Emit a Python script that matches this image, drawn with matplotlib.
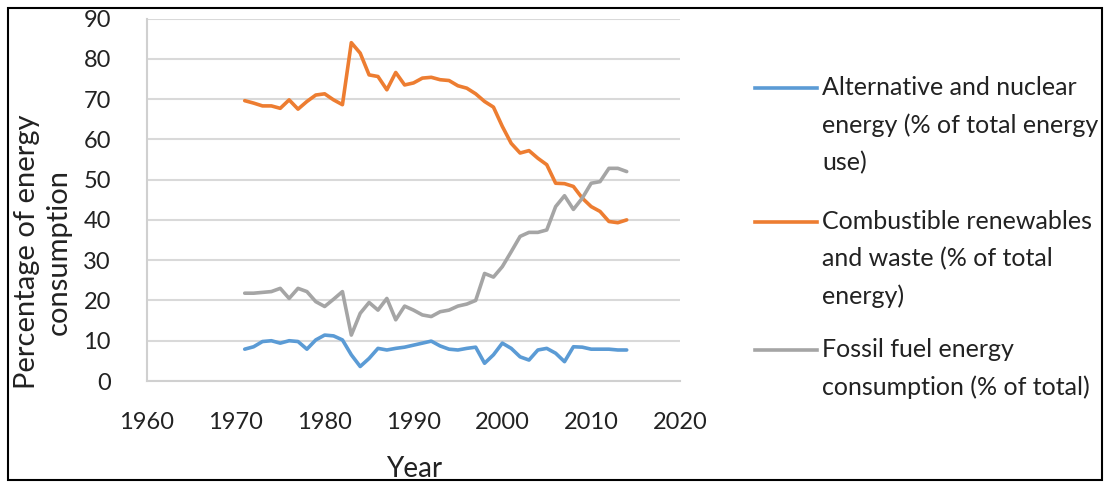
import matplotlib.pyplot as plt
from matplotlib.patches import Rectangle
from matplotlib.lines import Line2D

plt.rcParams['font.family'] = ['Lato', 'DejaVu Sans']

years = list(range(1971, 2015))

alt_nuclear = [7.9, 8.5, 9.8, 10.0, 9.4, 10.0, 9.8, 7.9, 10.2, 11.4, 11.2, 10.2,
               6.5, 3.6, 5.6, 8.1, 7.7, 8.1, 8.4, 8.9, 9.4, 9.9, 8.7, 7.9,
               7.7, 8.1, 8.4, 4.4, 6.5, 9.4, 8.1, 6.0, 5.2, 7.7, 8.1, 6.9,
               4.8, 8.5, 8.4, 7.9, 7.9, 7.9, 7.7, 7.7]

combustible = [69.6, 69.0, 68.3, 68.3, 67.7, 69.8, 67.5, 69.4, 71.0, 71.3, 69.8, 68.6,
               84.0, 81.4, 76.0, 75.6, 72.3, 76.6, 73.5, 74.0, 75.2, 75.4, 74.8, 74.6,
               73.3, 72.7, 71.3, 69.4, 68.0, 63.2, 59.0, 56.6, 57.2, 55.3, 53.7, 49.1,
               49.0, 48.3, 45.4, 43.3, 42.1, 39.6, 39.3, 40.0]

fossil = [21.8, 21.8, 22.0, 22.2, 23.0, 20.5, 23.0, 22.2, 19.7, 18.5, 20.3, 22.2,
          11.4, 16.8, 19.5, 17.6, 20.5, 15.2, 18.6, 17.6, 16.4, 16.0, 17.2, 17.6,
          18.6, 19.1, 20.0, 26.7, 25.8, 28.4, 32.1, 35.9, 36.9, 36.9, 37.5, 43.3,
          46.0, 42.6, 45.4, 49.1, 49.5, 52.8, 52.8, 52.0]

labels = ["Alternative and nuclear\nenergy (% of total energy\nuse)",
          "Combustible renewables\nand waste (% of total\nenergy)",
          "Fossil fuel energy\nconsumption (% of total)"]
colors = ['#5B9BD5', '#ED7D31', '#A5A5A5']
txt = '#222222'

W, H = 1106, 483
fig = plt.figure(figsize=(W / 100, H / 100), dpi=100)
ax = fig.add_axes([147 / W, 1 - 381 / H, (680 - 147) / W, (381 - 18.5) / H])

for vals, c in zip([alt_nuclear, combustible, fossil], colors):
    ax.plot(years, vals, color=c, lw=2.6, solid_joinstyle='round', solid_capstyle='round')

ax.set_xlim(1960, 2020)
ax.set_ylim(0, 90)
ax.set_xticks(range(1960, 2021, 10))
ax.set_yticks(range(0, 91, 10))
ax.grid(axis='y', color='#D9D9D9', lw=1.5)
ax.set_axisbelow(True)
for s in ['top', 'right']:
    ax.spines[s].set_visible(False)
for s in ['left', 'bottom']:
    ax.spines[s].set_color('#D0D0D0')
    ax.spines[s].set_linewidth(1.5)
ax.tick_params(axis='both', length=0, labelsize=17, labelcolor=txt)
ax.tick_params(axis='y', pad=26)
ax.tick_params(axis='x', pad=22)

fig.text(43 / W, 1 - 252 / H, "Percentage of energy\nconsumption", rotation=90,
         ha='center', va='center', fontsize=21, color=txt, multialignment='center',
         linespacing=1.3)
fig.text(414 / W, 1 - 477 / H, "Year", ha='center', va='baseline', fontsize=20, color=txt)

# legend drawn by hand so the handle sits at the first text line
leg_y = [88, 222, 350]
for y0, lab, c in zip(leg_y, labels, colors):
    fig.add_artist(Line2D([755 / W, 817 / W], [1 - y0 / H, 1 - y0 / H], color=c, lw=2.6,
                          transform=fig.transFigure))
    fig.text(822 / W, 1 - (y0 - 12) / H, lab, ha='left', va='top', fontsize=18,
             color=txt, linespacing=1.72)

fig.add_artist(Rectangle((8 / W, 3 / H), (1102 - 8) / W, (475 - 3) / H, fill=False,
                         edgecolor='black', lw=1.5, transform=fig.transFigure))

fig.savefig('out.png', dpi=100)
